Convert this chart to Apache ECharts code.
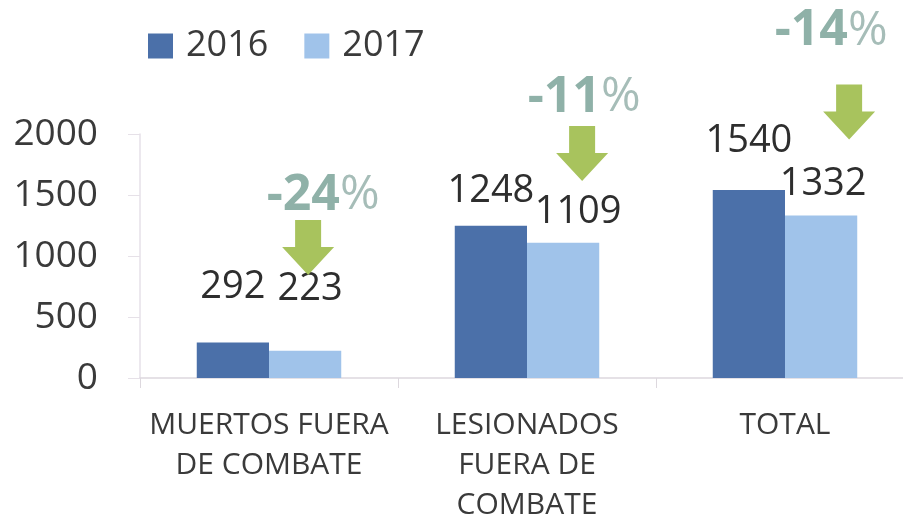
<!DOCTYPE html>
<html>
<head>
<meta charset="utf-8">
<script src="https://cdn.jsdelivr.net/npm/echarts@6/dist/echarts.min.js"></script>
<style>
html, body { margin: 0; background: #fff; }
#chart { width: 903px; height: 519px; }
</style>
</head>
<body>
<div id="chart"></div>
<script>
// datos
var categories = ['MUERTOS FUERA\nDE COMBATE', 'LESIONADOS\nFUERA DE\nCOMBATE', 'TOTAL'];
var values2016 = [292, 1248, 1540];
var values2017 = [223, 1109, 1332];
var changes = ['-24', '-11', '-14'];
var yTicks = [0, 500, 1000, 1500, 2000];

// colocacion a mano de etiquetas y flechas (como en el original)
var lift2016 = [36, 16, 30];
var lift2017 = [43, 12, 12];
var shift2017 = [5, 15, 2];
var arrowAt = [1070, 1840, 2000];
var arrowRaise = [0, 0, 22];
var arrowShift = [3, 19, 28];
var pctShift = [[15, -52], [2, -56], [-18, -81]];

var font = 'Open Sans';
var arrowPath = 'path://M13,0 L39,0 L39,27 L52,27 L26,55 L0,27 L13,27 Z';

function withLabels(vals, lift, shift) {
	return vals.map(function (v, i) {
		return { value: v, label: { distance: lift[i], offset: [shift ? shift[i] : 0, 0] } };
	});
}

var arrows = changes.map(function (txt, i) {
	return {
		coord: [i, arrowAt[i]],
		symbolOffset: [arrowShift[i], -arrowRaise[i]],
		label: { formatter: '{n|' + txt + '}{p|%}', offset: pctShift[i] }
	};
});

var myChart = echarts.init(document.getElementById('chart'));

var option = {
	backgroundColor: '#fff',
	textStyle: { fontFamily: font },
	animation: false,
	legend: {
		left: 143,
		top: 23,
		icon: 'rect',
		itemWidth: 25,
		itemHeight: 25,
		itemGap: 36,
		textStyle: { fontFamily: font, fontSize: 36, color: '#3a3a3a', padding: [0, 0, 0, 8] },
		data: ['2016', '2017']
	},
	grid: { left: 140, top: 134, width: 774, bottom: 141, containLabel: false, outerBoundsMode: 'none' },
	xAxis: {
		type: 'category',
		data: categories,
		axisLine: { lineStyle: { color: '#ddd8de', width: 1.5 } },
		axisTick: { show: true, length: 10, lineStyle: { color: '#ddd8de' } },
		axisLabel: {
			interval: 0,
			margin: 27,
			fontFamily: font,
			fontSize: 30,
			lineHeight: 40,
			color: '#3a3a3a'
		}
	},
	yAxis: {
		type: 'value',
		min: yTicks[0],
		max: yTicks[yTicks.length - 1],
		interval: yTicks[1] - yTicks[0],
		axisLine: { show: true, lineStyle: { color: '#e6e1e8', width: 1.5 } },
		axisTick: { show: true, length: 12, lineStyle: { color: '#e6e1e8' } },
		splitLine: { show: false },
		axisLabel: {
			margin: 42,
			fontFamily: font,
			fontSize: 37,
			color: '#3a3a3a',
			formatter: function (v) { return String(v); }
		}
	},
	series: [
		{
			name: '2016',
			type: 'bar',
			barGap: '0%',
			barCategoryGap: '44%',
			itemStyle: { color: '#4b70a9' },
			label: { show: true, position: 'top', fontFamily: font, fontSize: 38, color: '#2e2e2e' },
			data: withLabels(values2016, lift2016)
		},
		{
			name: '2017',
			type: 'bar',
			itemStyle: { color: '#a0c3ea' },
			label: { show: true, position: 'top', fontFamily: font, fontSize: 38, color: '#2e2e2e' },
			data: withLabels(values2017, lift2017, shift2017),
			markPoint: {
				symbol: arrowPath,
				symbolSize: [52, 55],
				itemStyle: { color: '#a8c35d' },
				label: {
					show: true,
					position: 'inside',
					rich: {
						n: { fontFamily: font, fontSize: 50, fontWeight: 'bold', color: '#8fb1a8' },
						p: { fontFamily: font, fontSize: 48, color: '#a6bdb8' }
					}
				},
				data: arrows
			}
		}
	]
};

myChart.setOption(option);
</script>
</body>
</html>
